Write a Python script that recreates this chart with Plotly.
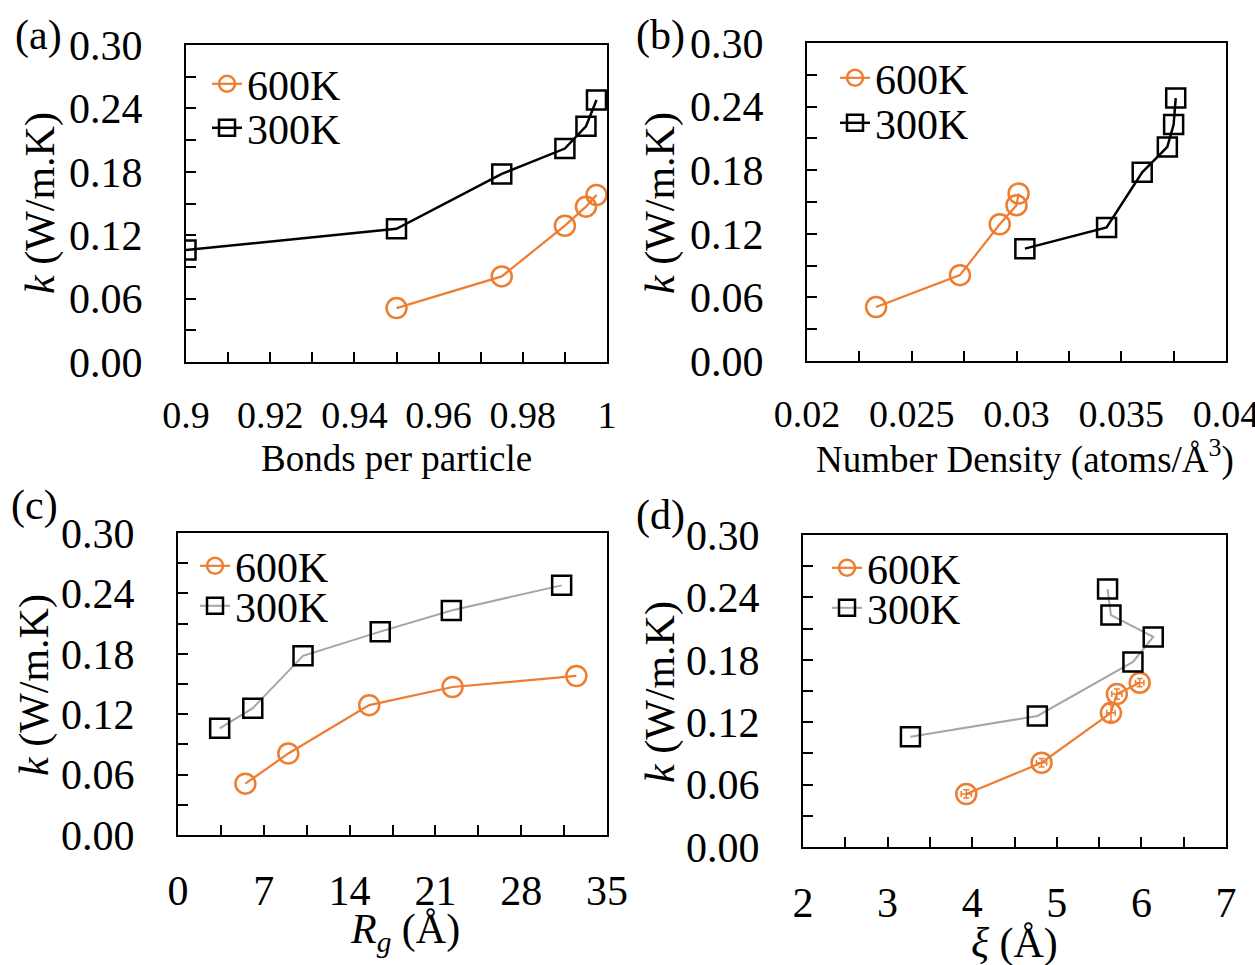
import plotly.graph_objects as go

# ---------------- data ----------------
k_600 = [0.051, 0.081, 0.129, 0.147, 0.158]
k_300 = [0.106, 0.126, 0.178, 0.202, 0.223, 0.248]

bonds_600 = [0.95, 0.975, 0.99, 0.995, 0.9975]
bonds_300 = [0.90, 0.95, 0.975, 0.99, 0.995, 0.9975]

dens_600 = [0.0233, 0.0273, 0.0292, 0.0300, 0.0301]
dens_300 = [0.0304, 0.0343, 0.0360, 0.0372, 0.0375, 0.0376]

rg_600 = [5.5, 9.0, 15.6, 22.4, 32.5]
rg_300 = [3.4, 6.1, 10.2, 16.5, 22.3, 31.3]

xi_600 = [3.93, 4.82, 5.64, 5.71, 5.98]
xi_300 = [3.27, 4.77, 5.90, 6.14, 5.64, 5.60]
xi_600_errx = [0.06, 0.06, 0.05, 0.06, 0.05]
xi_600_erry = [0.004, 0.004, 0.008, 0.005, 0.004]

series_names = ["600K", "300K"]
panel_labels = ["(a)", "(b)", "(c)", "(d)"]
x_titles = ["Bonds per particle", "Number Density (atoms/Å<sup>3</sup>)",
            "<i>R<sub>g</sub></i> (Å)", "<i>ξ</i> (Å)"]
y_title = "<i>k</i> (W/m.K)"

xa_tickvals = [0.90, 0.92, 0.94, 0.96, 0.98, 1.00]
xa_ticktext = ["0.9", "0.92", "0.94", "0.96", "0.98", "1"]
xb_tickvals = [0.02, 0.025, 0.03, 0.035, 0.04]
xb_ticktext = ["0.02", "0.025", "0.03", "0.035", "0.04"]
xc_tickvals = [0, 7, 14, 21, 28, 35]
xd_tickvals = [2, 3, 4, 5, 6, 7]
y_tickvals = [0.00, 0.06, 0.12, 0.18, 0.24, 0.30]

# ---------------- style ----------------
ORANGE = "#ED7D31"
BLACK = "#000000"
GRAY = "#A6A6A6"
FONT = "Liberation Serif"
FS = 42
W, H = 1255, 965

def px_x(v):
    return v / W

def px_y(v):
    return 1 - v / H

# panel boxes in pixels: (left, right, top, bottom)
boxes = [(186, 607, 45, 362), (807, 1226, 43, 361), (178, 607, 533, 835), (803, 1226, 535, 847)]

fig = go.Figure()

panels = [
    (bonds_600, bonds_300, BLACK, None),
    (dens_600, dens_300, BLACK, None),
    (rg_600, rg_300, GRAY, None),
    (xi_600, xi_300, GRAY, (xi_600_errx, xi_600_erry)),
]

def leg_name(idx):
    return "legend" if idx == 1 else "legend" + str(idx)

for i, (x6, x3, c300, err) in enumerate(panels):
    n = "" if i == 0 else str(i + 1)
    lw300 = 2.5 if c300 == BLACK else 2
    tr6 = dict(
        x=x6, y=k_600, mode="lines+markers", name=series_names[0],
        line=dict(color=ORANGE, width=2.2),
        marker=dict(symbol="circle-open", size=20, color=ORANGE, line=dict(width=2.5)),
        xaxis="x" + n, yaxis="y" + n, legend=leg_name(2 * i + 1),
    )
    if err is not None:
        tr6["error_x"] = dict(type="data", array=err[0], color=ORANGE, thickness=1.5, width=3)
        tr6["error_y"] = dict(type="data", array=err[1], color=ORANGE, thickness=1.5, width=3)
    fig.add_trace(go.Scatter(**tr6))
    fig.add_trace(go.Scatter(
        x=x3, y=k_300, mode="lines+markers", name=series_names[1],
        line=dict(color=c300, width=lw300),
        marker=dict(symbol="square-open", size=19, color=BLACK, line=dict(width=2.5)),
        xaxis="x" + n, yaxis="y" + n, legend=leg_name(2 * i + 2),
    ))

x_ranges = [[0.9, 1.0], [0.02, 0.04], [0, 35], [2, 7]]
x_minor = [0.01, 0.0025, 3.5, 0.5]
x_ticks = [(xa_tickvals, xa_ticktext), (xb_tickvals, xb_ticktext),
           (xc_tickvals, [str(v) for v in xc_tickvals]),
           (xd_tickvals, [str(v) for v in xd_tickvals])]
x_tickfs = [38, 38, FS, FS]

layout = dict(
    width=W, height=H, margin=dict(l=0, r=0, t=0, b=0, autoexpand=False),
    paper_bgcolor="white", plot_bgcolor="white",
    font=dict(family=FONT, size=FS, color="black"),
    showlegend=True,
)

# legend text start x and text centre y for each (panel, series)
legend_text = [
    [(249, 88), (249, 132)],
    [(877, 82), (877, 127)],
    [(237, 570), (237, 610)],
    [(869, 572), (869, 612)],
]

for i in range(4):
    n = "" if i == 0 else str(i + 1)
    l, r, t, b = boxes[i]
    layout["xaxis" + n] = dict(
        domain=[px_x(l), px_x(r)], range=x_ranges[i], anchor="y" + n,
        showline=True, linewidth=2, linecolor="black", mirror=True,
        ticks="inside", ticklen=10, tickwidth=2, tickcolor="black",
        tickvals=x_ticks[i][0], ticktext=x_ticks[i][1], tickangle=0,
        ticklabelstandoff=18, ticklabeloverflow="allow",
        minor=dict(dtick=x_minor[i], tick0=x_ranges[i][0], ticks="inside",
                   ticklen=10, tickwidth=2, tickcolor="black", showgrid=False),
        showgrid=False, zeroline=False, fixedrange=True,
        tickfont=dict(family=FONT, size=x_tickfs[i]),
    )
    layout["yaxis" + n] = dict(
        domain=[px_y(b), px_y(t)], range=[0, 0.30], anchor="x" + n,
        showline=True, linewidth=2, linecolor="black", mirror=True,
        ticks="inside", ticklen=10, tickwidth=2, tickcolor="black",
        tickvals=y_tickvals, tickformat=".2f",
        ticklabelstandoff=33, ticklabeloverflow="allow",
        minor=dict(dtick=0.03, tick0=0, ticks="inside",
                   ticklen=10, tickwidth=2, tickcolor="black", showgrid=False),
        showgrid=False, zeroline=False, fixedrange=True,
        tickfont=dict(family=FONT, size=FS),
    )
    for j in range(2):
        tx, ty = legend_text[i][j]
        layout[leg_name(2 * i + j + 1)] = dict(
            x=px_x(tx - 42), y=px_y(ty - 38), xanchor="left", yanchor="top",
            bgcolor="rgba(0,0,0,0)", borderwidth=0,
            font=dict(family=FONT, size=FS, color="black"),
            itemwidth=30,
        )

fig.update_layout(**layout)

annotations = []
# panel labels
label_pos = [(38, 36), (660, 36), (34, 505), (660, 515)]
for i, (x, y) in enumerate(label_pos):
    annotations.append(dict(text=panel_labels[i], x=px_x(x), y=px_y(y), xref="paper", yref="paper",
                            showarrow=False, xanchor="center", yanchor="middle",
                            font=dict(family=FONT, size=FS)))
# y titles
ytitle_pos = [(40, 203), (660, 203), (34, 685), (660, 692)]
for (x, y) in ytitle_pos:
    annotations.append(dict(text=y_title, x=px_x(x), y=px_y(y), xref="paper", yref="paper",
                            showarrow=False, textangle=-90, xanchor="center", yanchor="middle",
                            font=dict(family=FONT, size=FS)))
# x titles
xtitle_pos = [(396, 458), (1025, 457), (405, 932), (1015, 943)]
xtitle_fs = [37, 37, FS, FS]
for i, (x, y) in enumerate(xtitle_pos):
    annotations.append(dict(text=x_titles[i], x=px_x(x), y=px_y(y), xref="paper", yref="paper",
                            showarrow=False, xanchor="center", yanchor="middle",
                            font=dict(family=FONT, size=xtitle_fs[i])))
fig.update_layout(annotations=annotations)

fig.write_html("out.html")
